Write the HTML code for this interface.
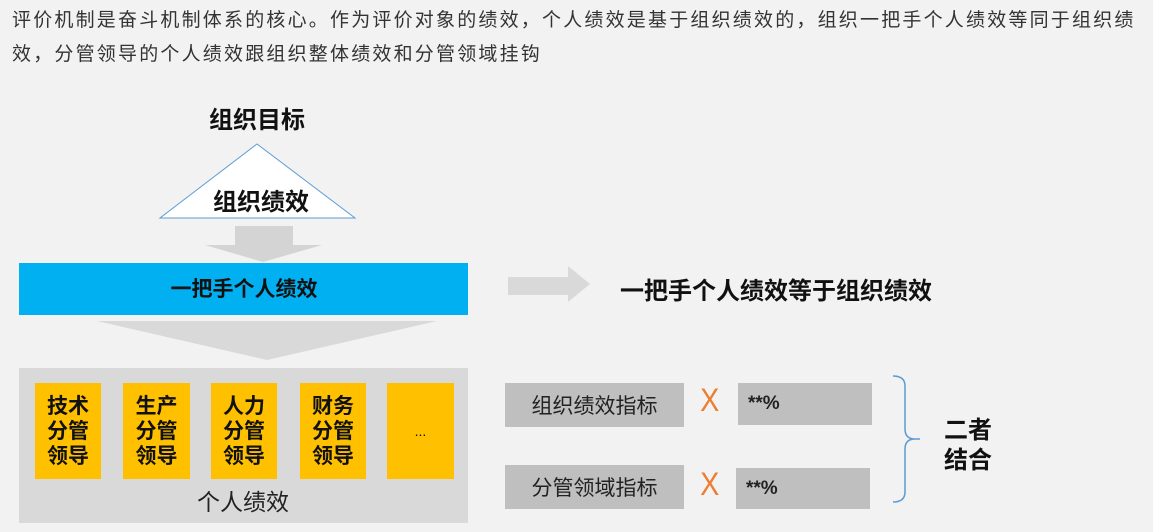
<!DOCTYPE html>
<html><head><meta charset="utf-8"><style>
body{margin:0;width:1153px;height:532px;background:#f2f2f2;position:relative;overflow:hidden;font-family:"Liberation Sans","Noto Sans CJK SC",sans-serif;}
.a{position:absolute;}
.t{position:absolute;white-space:nowrap;}
.y{position:absolute;top:383px;height:96px;background:#ffc000;font-weight:bold;font-size:21px;line-height:25px;text-align:center;display:flex;align-items:center;justify-content:center;color:#111;}
.g{position:absolute;background:#bfbfbf;font-size:21px;color:#222;display:flex;align-items:center;}
</style></head><body>
<div class="t" style="left:12px;top:4px;font-size:19px;letter-spacing:2.2px;line-height:34px;color:#333;white-space:normal;width:1140px;">评价机制是奋斗机制体系的核心。作为评价对象的绩效，个人绩效是基于组织绩效的，组织一把手个人绩效等同于组织绩效，分管领导的个人绩效跟组织整体绩效和分管领域挂钩</div>
<svg class="a" style="left:0;top:0" width="1153" height="532">
<polygon points="257,144 160,218 355,218" fill="#fff" stroke="#5b9bd5" stroke-width="1"/>
<polygon points="235,226 293,226 293,245 322,245 263,262 205,245 235,245" fill="#d4d4d4"/>
<polygon points="97,321 437,321 267,360" fill="#d9d9d9"/>
<polygon points="508,277 568,277 568,266 590,284 568,302 568,295 508,295" fill="#d9d9d9"/>
<path d="M893,376 Q905,376 905,386 L905,429 Q905,439 915,439 L920,439 M915,439 Q905,439 905,449 L905,492 Q905,502 893,502" fill="none" stroke="#5b9bd5" stroke-width="1.5"/>
</svg>
<div class="t" style="left:257px;top:100px;transform:translateX(-50%);font-size:24px;font-weight:bold;color:#111;">组织目标</div>
<div class="t" style="left:261px;top:182px;transform:translateX(-50%);font-size:24px;font-weight:bold;color:#111;">组织绩效</div>
<div class="a" style="left:19px;top:263px;width:449px;height:52px;background:#00b0f0;"></div>
<div class="t" style="left:244px;top:273px;transform:translateX(-50%);font-size:21px;font-weight:bold;color:#111;">一把手个人绩效</div>
<div class="a" style="left:19px;top:368px;width:449px;height:155px;background:#d9d9d9;"></div>
<div class="y" style="left:35px;width:66px;">技术<br>分管<br>领导</div>
<div class="y" style="left:123px;width:67px;">生产<br>分管<br>领导</div>
<div class="y" style="left:211px;width:66px;">人力<br>分管<br>领导</div>
<div class="y" style="left:300px;width:66px;">财务<br>分管<br>领导</div>
<div class="y" style="left:387px;width:67px;font-weight:normal;font-size:14px;">...</div>
<div class="t" style="left:243px;top:483px;transform:translateX(-50%);font-size:23px;color:#222;">个人绩效</div>
<div class="t" style="left:620px;top:271px;font-size:24px;font-weight:bold;color:#111;">一把手个人绩效等于组织绩效</div>
<div class="g" style="left:505px;top:383px;width:179px;height:44px;justify-content:center;">组织绩效指标</div>
<div class="g" style="left:505px;top:465px;width:179px;height:44px;justify-content:center;">分管领域指标</div>
<div class="t" style="left:699px;top:382px;font-size:32px;font-weight:300;color:#ed7d31;transform:scaleX(0.9);">X</div>
<div class="t" style="left:699px;top:466px;font-size:32px;font-weight:300;color:#ed7d31;transform:scaleX(0.9);">X</div>
<div class="g" style="left:738px;top:383px;width:134px;height:42px;font-weight:bold;font-size:19px;padding-left:10px;box-sizing:border-box;">**%</div>
<div class="g" style="left:736px;top:468px;width:134px;height:41px;font-weight:bold;font-size:19px;padding-left:10px;box-sizing:border-box;">**%</div>
<div class="t" style="left:944px;top:416px;font-size:24px;font-weight:bold;line-height:30px;color:#111;">二者<br>结合</div>
</body></html>
